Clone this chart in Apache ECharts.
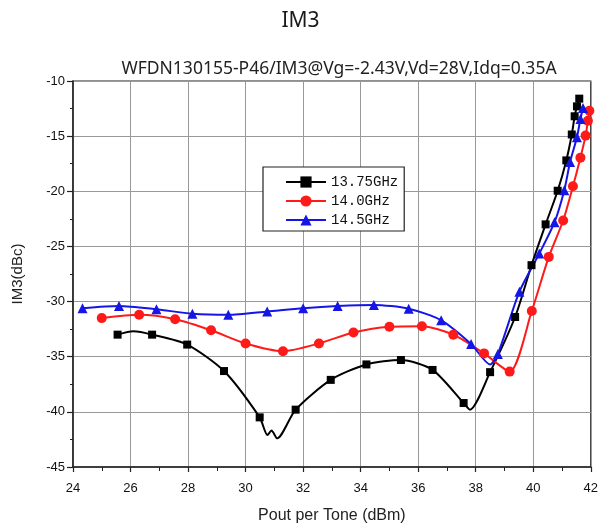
<!DOCTYPE html>
<html><head><meta charset="utf-8">
<script src="https://cdn.jsdelivr.net/npm/echarts@6/dist/echarts.min.js"></script>
<style>html,body{margin:0;padding:0;background:#fff}#c{width:601px;height:529px}</style>
</head><body><div id="c"></div>
<script>
const seriesNames = ['13.75GHz', '14.0GHz', '14.5GHz'];

// 13.75GHz (black, squares); marked=1 point has a marker, 0 = line-only point
const pout1375 = [25.55, 26.1, 26.75, 27.97, 29.25, 30.49, 30.76, 30.9, 31.1, 31.74, 32.96, 34.2, 35.4, 36.5, 37.58, 37.8, 38.5, 39.37, 39.94, 40.43, 40.85, 41.15, 41.34, 41.44, 41.52, 41.6];
const im3_1375 = [-33.0, -32.7, -33.0, -33.9, -36.3, -40.5, -42.1, -41.7, -42.4, -39.8, -37.1, -35.7, -35.3, -36.2, -39.2, -39.8, -36.4, -31.4, -26.7, -23.0, -19.95, -17.2, -14.85, -13.2, -12.3, -11.6];
const mark1375 = [1, 0, 1, 1, 1, 1, 0, 0, 0, 1, 1, 1, 1, 1, 1, 0, 1, 1, 1, 1, 1, 1, 1, 1, 1, 1];

// 14.0GHz (red, circles)
const pout140 = [25.0, 26.3, 27.55, 28.8, 30.0, 31.3, 32.55, 33.75, 35.0, 36.13, 37.22, 38.29, 39.18, 39.95, 40.54, 41.04, 41.38, 41.64, 41.82, 41.9, 41.95];
const im3_140 = [-31.5, -31.2, -31.6, -32.6, -33.8, -34.5, -33.8, -32.8, -32.28, -32.23, -33.0, -34.7, -36.35, -30.85, -25.95, -22.65, -19.55, -16.95, -14.95, -13.6, -12.7];
const mark140 = [1, 1, 1, 1, 1, 1, 1, 1, 1, 1, 1, 1, 1, 1, 1, 1, 1, 1, 1, 1, 1];

// 14.5GHz (blue, triangles)
const pout145 = [24.33, 25.6, 26.9, 28.15, 29.4, 30.75, 32.0, 33.2, 34.46, 35.67, 36.8, 37.84, 38.5, 38.77, 39.52, 40.21, 40.74, 41.08, 41.28, 41.52, 41.64, 41.73];
const im3_145 = [-30.6, -30.4, -30.7, -31.1, -31.2, -30.9, -30.6, -30.4, -30.3, -30.65, -31.7, -33.85, -35.7, -34.75, -29.1, -25.65, -22.8, -19.9, -17.35, -15.1, -13.45, -12.45];
const mark145 = [1, 1, 1, 1, 1, 1, 1, 1, 1, 1, 1, 1, 0, 1, 1, 1, 1, 1, 1, 1, 1, 1];

function build(xs, ys, marks) {
  return xs.map((x, i) => marks[i] ? [x, ys[i]] : { value: [x, ys[i]], symbol: 'none' });
}

const chart = echarts.init(document.getElementById('c'), null, { renderer: 'canvas' });
const axisFont = { fontFamily: 'Liberation Sans, Arial, sans-serif', fontSize: 13, color: '#111' };

const mkSeries = (name, data, color, symbol, size) => ({
  name, type: 'line', data, smooth: 0.25, symbol, symbolSize: size,
  lineStyle: { color, width: 2 }, itemStyle: { color }, z: 3
});

chart.setOption({
  animation: false,
  backgroundColor: '#fff',
  title: [
    { text: 'IM3', left: 'center', top: 6,
      textStyle: { fontFamily: 'Noto Sans, sans-serif', fontSize: 21, fontWeight: 'normal', color: '#1a1a1a' } },
    { text: 'WFDN130155-P46/IM3@Vg=-2.43V,Vd=28V,Idq=0.35A', left: 334, textAlign: 'center', top: 55,
      textStyle: { fontFamily: 'Noto Sans, sans-serif', fontSize: 17.5, fontWeight: 'normal', color: '#222' } }
  ],
  grid: { left: 73, right: 8, top: 81, bottom: 61, show: true, borderColor: '#222', borderWidth: 1.2, backgroundColor: 'transparent' },
  legend: {
    left: 263, top: 167, orient: 'vertical',
    data: seriesNames,
    backgroundColor: '#fff', borderColor: '#222', borderWidth: 1.2,
    padding: [8, 6, 4, 22], itemGap: 5, itemWidth: 40, itemHeight: 14,
    textStyle: { fontFamily: 'Liberation Mono, DejaVu Sans Mono, monospace', fontSize: 14, color: '#111' }
  },
  xAxis: {
    type: 'value', min: 24, max: 42, interval: 2,
    name: 'Pout per Tone (dBm)', nameLocation: 'middle', nameGap: 41,
    nameTextStyle: { fontFamily: 'Liberation Sans, Arial, sans-serif', fontSize: 16, color: '#222' },
    axisLine: { show: true, onZero: false, lineStyle: { color: '#222', width: 1.5 } },
    axisTick: { show: true, inside: false, length: 5, lineStyle: { color: '#222', width: 1.2 } },
    minorTick: { show: true, splitNumber: 2, length: 4, lineStyle: { color: '#222', width: 1 } },
    axisLabel: Object.assign({ margin: 15 }, axisFont),
    splitLine: { show: true, lineStyle: { color: '#999', width: 1 } }
  },
  yAxis: {
    type: 'value', min: -45, max: -10, interval: 5,
    name: 'IM3(dBc)', nameLocation: 'middle', nameGap: 48,
    nameTextStyle: { fontFamily: 'Liberation Sans, Arial, sans-serif', fontSize: 15, color: '#222' },
    axisLine: { show: true, onZero: false, lineStyle: { color: '#222', width: 1.5 } },
    axisTick: { show: true, inside: false, length: 6, lineStyle: { color: '#222', width: 1.2 } },
    minorTick: { show: true, splitNumber: 2, length: 3, lineStyle: { color: '#222', width: 1 } },
    axisLabel: Object.assign({ margin: 8 }, axisFont),
    splitLine: { show: true, lineStyle: { color: '#999', width: 1 } }
  },
  series: [
    mkSeries(seriesNames[0], build(pout1375, im3_1375, mark1375), '#000000', 'rect', 8),
    mkSeries(seriesNames[1], build(pout140, im3_140, mark140), '#ff1a1a', 'circle', 10),
    mkSeries(seriesNames[2], build(pout145, im3_145, mark145), '#1515e6', 'triangle', 10)
  ]
});
</script></body></html>
